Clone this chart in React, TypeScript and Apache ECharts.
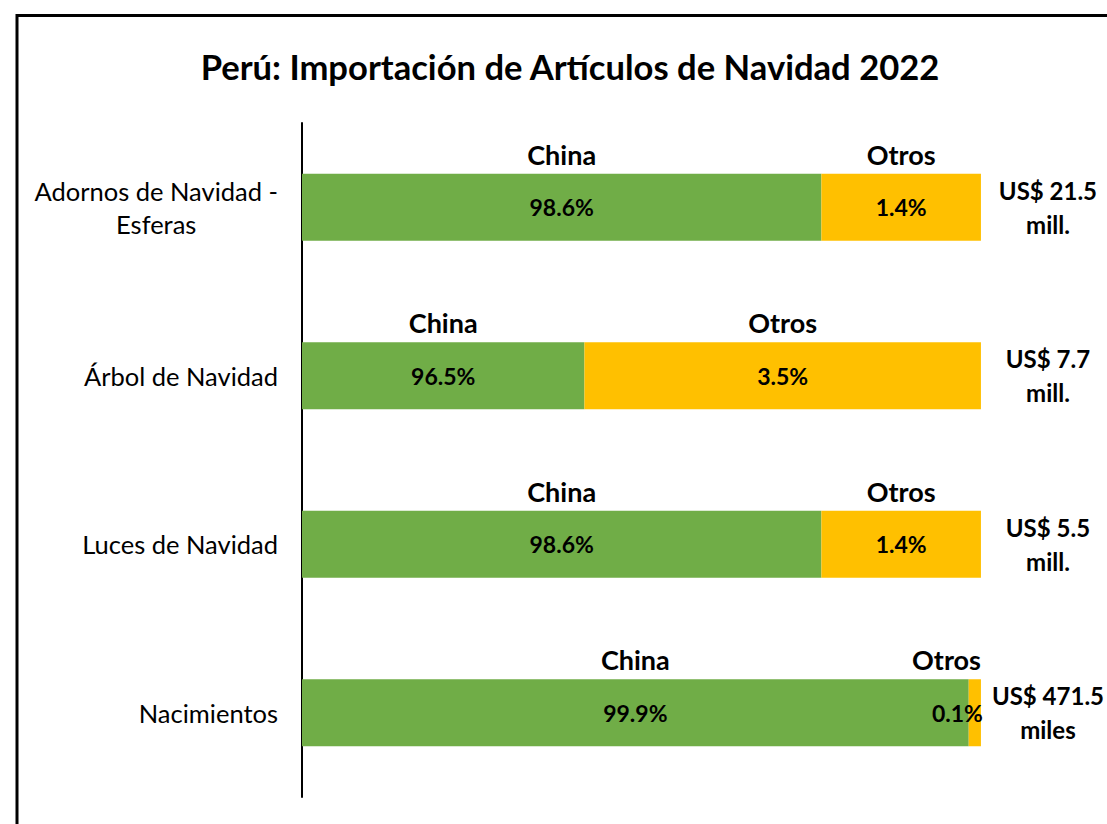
import React, { useEffect, useRef } from "react";
import * as echarts from "echarts";

const categories = ["Adornos de Navidad -\nEsferas", "Árbol de Navidad", "Luces de Navidad", "Nacimientos"];
// bar lengths as drawn in the picture (share of the full bar width)
const chinaBar = [76.5, 41.6, 76.5, 98.2];
const otrosBar = [23.5, 58.4, 23.5, 1.8];
// labelled shares
const chinaPct = ["98.6%", "96.5%", "98.6%", "99.9%"];
const otrosPct = ["1.4%", "3.5%", "1.4%", "0.1%"];
const totals = ["US$ 21.5\nmill.", "US$ 7.7\nmill.", "US$ 5.5\nmill.", "US$ 471.5\nmiles"];
const seriesNames = ["China", "Otros"];

const FONT = "Lato, 'Open Sans', sans-serif";

export default function App() {
  const ref = useRef<HTMLDivElement>(null);
  useEffect(() => {
    const chart = echarts.init(ref.current!, null, { renderer: "svg" });
    const last = categories.length - 1;
    const pctStyle = { fontFamily: FONT, fontWeight: "bold" as const, fontSize: 23, color: "#000" };
    const nameStyle = { fontFamily: FONT, fontWeight: "bold" as const, fontSize: 27, color: "#000" };
    chart.setOption({
      animation: false,
      backgroundColor: "#fff",
      title: {
        text: "Perú: Importación de Artículos de Navidad 2022",
        left: 565,
        top: 44,
        textAlign: "center",
        textStyle: { fontFamily: FONT, fontWeight: "bold", fontSize: 34.6, color: "#000" },
      },
      graphic: [
        {
          type: "rect",
          shape: { x: 17, y: 15.5, width: 1300, height: 1000 },
          style: { fill: "none", stroke: "#000", lineWidth: 3 },
          silent: true,
        },
      ],
      grid: { left: 302, right: 124, top: 123, bottom: 27 },
      xAxis: [
        { type: "value", min: 0, max: 100, show: false },
        { type: "value", min: 0, max: 100, show: false },
      ],
      yAxis: [
        {
          type: "category",
          data: categories,
          inverse: true,
          axisLine: { show: true, lineStyle: { color: "#000", width: 2 } },
          axisTick: { show: false },
          axisLabel: {
            margin: 24,
            align: "right",
            fontFamily: FONT,
            fontSize: 25.5,
            color: "#000",
            formatter: (v: string) =>
              v
                .split("\n")
                .map((s) => "{c|" + s + "}")
                .join("\n"),
            rich: { c: { align: "center", fontFamily: FONT, fontSize: 25.5, color: "#000", lineHeight: 33 } },
          },
        },
        {
          type: "category",
          data: totals,
          inverse: true,
          position: "right",
          axisLine: { show: false },
          axisTick: { show: false },
          axisLabel: {
            margin: 67,
            align: "center",
            fontFamily: FONT,
            fontWeight: "bold",
            fontSize: 24,
            lineHeight: 34,
            color: "#000",
          },
        },
        { type: "category", data: categories, inverse: true, show: false },
      ],
      series: [
        {
          name: seriesNames[0],
          type: "bar",
          stack: "s",
          barWidth: 67,
          xAxisIndex: 0,
          yAxisIndex: 0,
          data: chinaBar,
          itemStyle: { color: "#70AD47" },
          label: { show: true, position: "inside", ...pctStyle, formatter: (p: any) => chinaPct[p.dataIndex] },
        },
        {
          name: seriesNames[1],
          type: "bar",
          stack: "s",
          barWidth: 67,
          xAxisIndex: 0,
          yAxisIndex: 0,
          data: otrosBar.map((v, i) =>
            i === last ? { value: v, label: { position: "insideRight", distance: -2 } } : v
          ),
          itemStyle: { color: "#FFC000" },
          label: { show: true, position: "inside", ...pctStyle, formatter: (p: any) => otrosPct[p.dataIndex] },
        },
        {
          name: seriesNames[0] + " label",
          type: "bar",
          stack: "t",
          barWidth: 67,
          xAxisIndex: 1,
          yAxisIndex: 2,
          silent: true,
          data: chinaBar,
          itemStyle: { color: "rgba(0,0,0,0)" },
          label: { show: true, position: "top", distance: 6, ...nameStyle, formatter: () => seriesNames[0] },
        },
        {
          name: seriesNames[1] + " label",
          type: "bar",
          stack: "t",
          barWidth: 67,
          xAxisIndex: 1,
          yAxisIndex: 2,
          silent: true,
          data: otrosBar.map((v, i) =>
            i === last
              ? { value: v, label: { position: ["100%", -6], align: "right", verticalAlign: "bottom" } }
              : v
          ),
          itemStyle: { color: "rgba(0,0,0,0)" },
          label: { show: true, position: "top", distance: 6, ...nameStyle, formatter: () => seriesNames[1] },
        },
      ],
    });
    return () => chart.dispose();
  }, []);
  return <div ref={ref} style={{ position: "fixed", left: 0, top: 0, width: 1107, height: 824 }} />;
}
